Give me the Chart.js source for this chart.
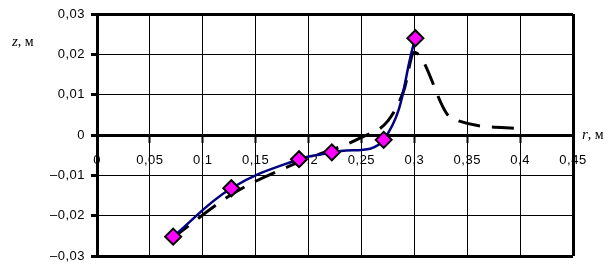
<!DOCTYPE html>
<html>
<head>
<meta charset="utf-8">
<script src="https://cdn.jsdelivr.net/npm/chart.js@4.4.1/dist/chart.umd.min.js"></script>
<style>
  html, body { margin: 0; padding: 0; background: #fff; }
  canvas { display: block; }
</style>
</head>
<body>
<canvas id="myChart" width="614" height="268"></canvas>
<script>
// measured points (r, z) in metres
let pointsR = [0.072, 0.127, 0.191, 0.222, 0.271, 0.301];
let pointsZ = [-0.0252, -0.0132, -0.0060, -0.0043, -0.0012, 0.0240];

// dashed curve
let dashR = [0.07, 0.13, 0.19, 0.25, 0.275, 0.29, 0.30, 0.335, 0.40];
let dashZ = [-0.0258, -0.0143, -0.0068, -0.0006, 0.0035, 0.0110, 0.0205, 0.0042, 0.0016];

// tick labels
let xTickLabels = ['0', '0,05', '0,1', '0,15', '0,2', '0,25', '0,3', '0,35', '0,4', '0,45'];
let yTickLabels = ['\u20130,03', '\u20130,02', '\u20130,01', '0', '0,01', '0,02', '0,03'];

function toXY(xs, ys) {
    return xs.map((x, i) => ({ x: x, y: ys[i] }));
}

Chart.defaults.color = '#000';
Chart.defaults.font.family = 'Arimo, "Liberation Sans", Arial, sans-serif';
Chart.defaults.font.size = 13;

// axis captions and a little letter spacing for the wide tick font
let extras = {
    id: 'extras',
    beforeDraw(chart) {
        chart.ctx.letterSpacing = '0.5px';
    },
    afterDraw(chart) {
        let c = chart.ctx;
        c.save();
        c.letterSpacing = '0px';
        c.fillStyle = '#000';
        c.textBaseline = 'middle';
        c.textAlign = 'left';
        let label = (x, y, v) => {
            c.font = 'italic 15px "Liberation Serif", "Times New Roman", serif';
            c.fillText(v, x, y);
            let w = c.measureText(v).width;
            c.font = '14px "Liberation Serif", "Times New Roman", serif';
            c.fillText(', м', x + w, y);
        };
        label(12, 42, 'z');
        label(582, 135, 'r');
        c.restore();
    }
};

let near = (a, b) => Math.abs(a - b) < 1e-9;

let ctx = document.getElementById('myChart').getContext('2d');
let chart = new Chart(ctx, {
    type: 'scatter',
    data: {
        datasets: [{
            label: 'points',
            data: toXY(pointsR, pointsZ),
            showLine: true,
            borderColor: '#000080',
            borderWidth: 2.5,
            tension: 0.4,
            pointStyle: 'rectRot',
            pointRadius: 8,
            pointBackgroundColor: '#FF00FF',
            pointBorderColor: '#000',
            pointBorderWidth: 2,
            order: 1
        }, {
            label: 'curve',
            data: toXY(dashR, dashZ),
            showLine: true,
            borderColor: '#000',
            borderWidth: 3,
            borderDash: [22, 12],
            cubicInterpolationMode: 'monotone',
            pointRadius: 0,
            order: 2
        }]
    },
    options: {
        responsive: false,
        animation: false,
        layout: { padding: { top: 14, right: 41, bottom: 12, left: 0 } },
        plugins: { legend: { display: false }, tooltip: { enabled: false } },
        scales: {
            x: {
                type: 'linear',
                position: { y: 0 },
                min: 0,
                max: 0.45,
                afterFit: s => {
                    s.paddingLeft = 0; s.paddingRight = 0;
                    s.paddingTop = 0; s.paddingBottom = 0;
                },
                ticks: {
                    stepSize: 0.05,
                    padding: 12,
                    maxRotation: 0,
                    autoSkip: false,
                    callback: (v, i) => xTickLabels[i]
                },
                grid: {
                    color: '#000',
                    lineWidth: c => (c.tick && near(c.tick.value, 0.45)) ? 3 : 1,
                    tickLength: 6,
                    tickWidth: 2,
                    tickColor: '#000'
                },
                border: { color: '#000', width: 3 }
            },
            y: {
                type: 'linear',
                min: -0.03,
                max: 0.03,
                afterFit: s => {
                    s.width = 97;
                    s.paddingTop = 0; s.paddingBottom = 0;
                },
                ticks: {
                    stepSize: 0.01,
                    padding: 6,
                    callback: (v, i) => yTickLabels[i]
                },
                grid: {
                    color: '#000',
                    lineWidth: c => (c.tick && (near(Math.abs(c.tick.value), 0.03) || near(c.tick.value, 0))) ? 3 : 1,
                    tickLength: 6,
                    tickWidth: 3,
                    tickColor: '#000'
                },
                border: { color: '#000', width: 3 }
            }
        }
    },
    plugins: [extras]
});
</script>
</body>
</html>
